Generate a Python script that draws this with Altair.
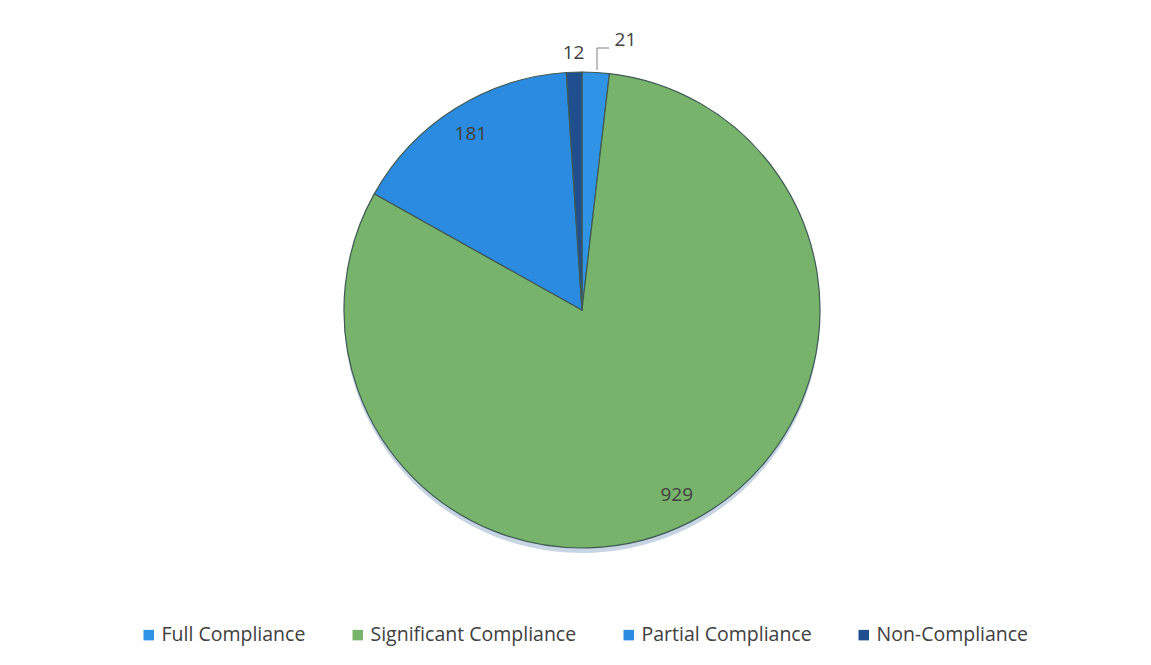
import altair as alt
import pandas as pd

categories = ["Full Compliance", "Significant Compliance", "Partial Compliance", "Non-Compliance"]
values = [21, 929, 181, 12]
colors = ["#2f94e6", "#78b36c", "#2b8be0", "#1f4f8f"]

df = pd.DataFrame({
    "category": categories,
    "value": values,
    "idx": list(range(len(categories))),
})

CX, CY, R = 574, 302, 238

theta = alt.Theta("value:Q", stack=True)
order = alt.Order("idx:Q")
color = alt.Color(
    "category:N",
    scale=alt.Scale(domain=categories, range=colors),
    legend=alt.Legend(
        title=None,
        orient="none",
        direction="horizontal",
        legendX=131,
        legendY=617,
        symbolType="square",
        symbolSize=110,
        symbolStrokeWidth=0,
        labelFont="Open Sans",
        labelFontSize=19.5,
        labelColor="#404040",
        labelOffset=3,
        columnPadding=42,
        labelLimit=400,
    ),
)

base = alt.Chart(df)

shadow = base.mark_arc(outerRadius=R, color="#b9c9dd", opacity=0.8).encode(
    theta=theta, order=order,
    x=alt.value(CX), y=alt.value(CY + 5),
)

pie = base.mark_arc(outerRadius=R, stroke="#3f5a55", strokeWidth=1.2).encode(
    theta=theta, order=order, color=color,
    x=alt.value(CX), y=alt.value(CY),
)

text_style = dict(font="Open Sans", fontSize=19, color="#404040", align="center", baseline="middle")

inside = base.mark_text(radius=208, **text_style).transform_calculate(
    lab="datum.value > 100 ? format(datum.value, 'd') : ''"
).encode(theta=theta, order=order, text="lab:N", x=alt.value(CX), y=alt.value(CY))

out12 = base.mark_text(radius=257, **text_style).transform_calculate(
    lab="datum.value == 12 ? format(datum.value, 'd') : ''"
).encode(theta=theta, order=order, text="lab:N", x=alt.value(CX), y=alt.value(CY))

out21 = base.mark_text(radius=268, dx=28, dy=-2, **text_style).transform_calculate(
    lab="datum.value == 21 ? format(datum.value, 'd') : ''"
).encode(theta=theta, order=order, text="lab:N", x=alt.value(CX), y=alt.value(CY))

leader_v = alt.Chart(pd.DataFrame({"a": [0]})).mark_rule(color="#7f7f7f", strokeWidth=1).encode(
    x=alt.value(589), y=alt.value(62), y2=alt.value(40)
)
leader_h = alt.Chart(pd.DataFrame({"a": [0]})).mark_rule(color="#7f7f7f", strokeWidth=1).encode(
    x=alt.value(589), x2=alt.value(601), y=alt.value(40)
)

chart = alt.layer(shadow, pie, inside, out12, out21, leader_v, leader_h).properties(
    width=1135, height=649,
    autosize=alt.AutoSizeParams(type="none"),
    padding=0,
    background="white",
).configure_view(stroke=None)

chart.save("out.html", embed_options={"renderer": "svg", "actions": False})
